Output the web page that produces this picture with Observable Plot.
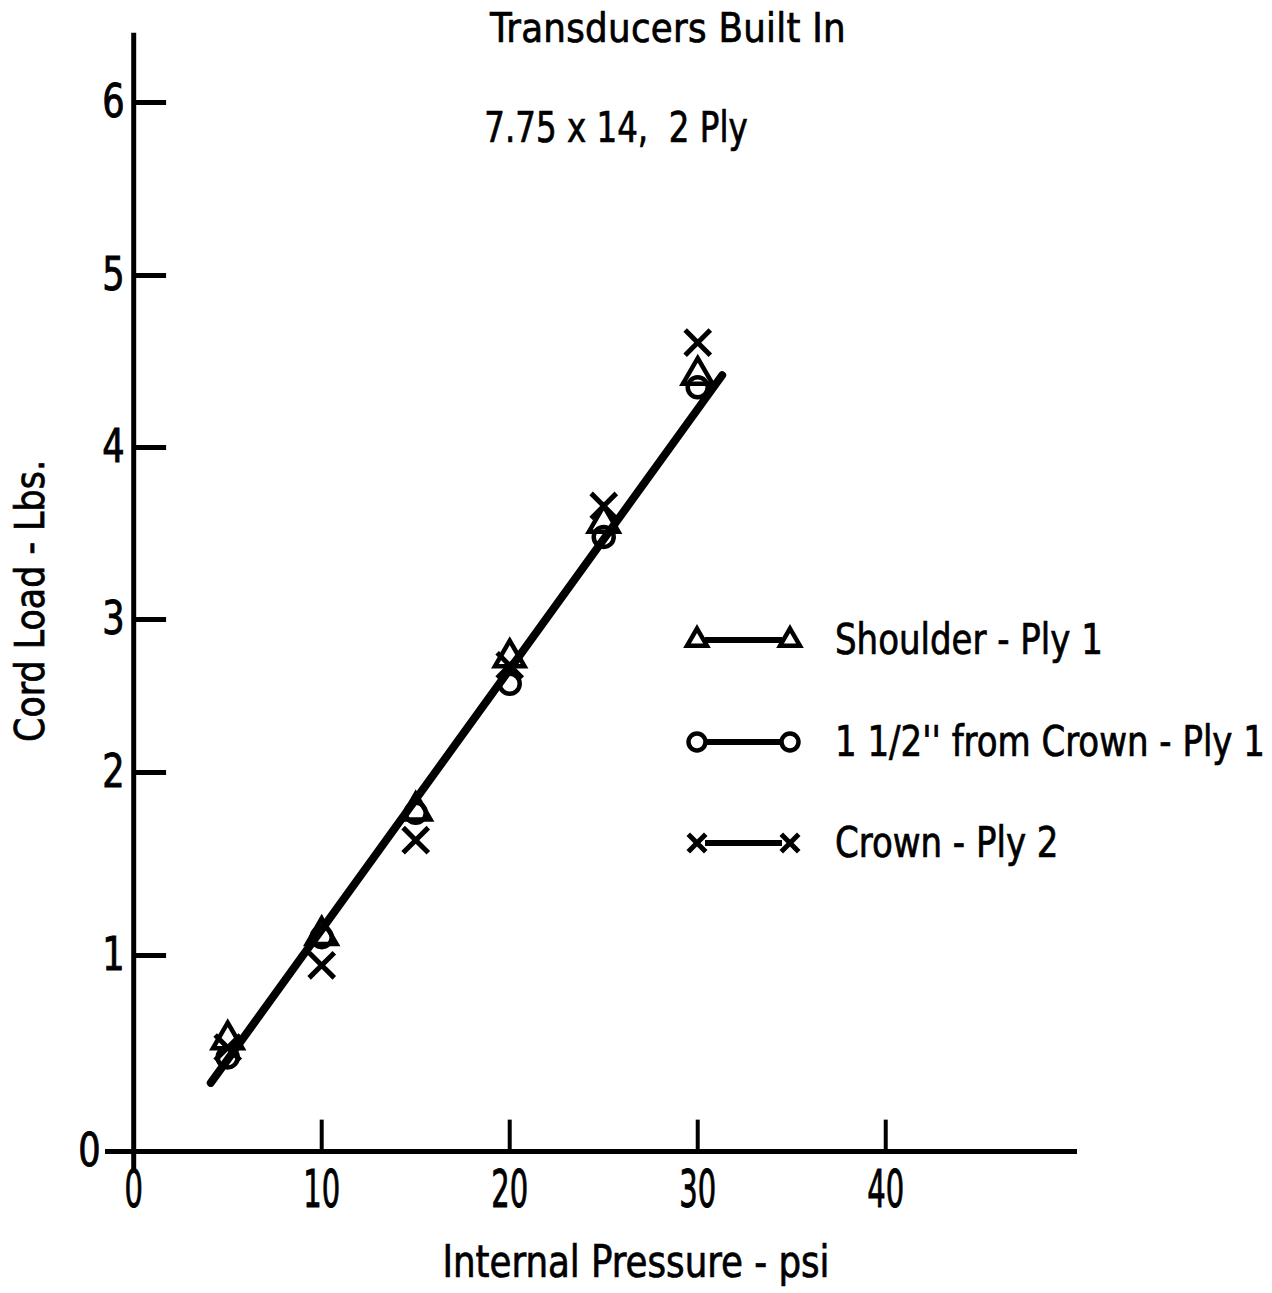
<!DOCTYPE html>
<html>
<head>
<meta charset="utf-8">
<script src="https://cdn.jsdelivr.net/npm/d3@7"></script>
<script src="https://cdn.jsdelivr.net/npm/@observablehq/plot@0.6"></script>
<style>
  html, body { margin: 0; padding: 0; background: #fff; }
  #chart {
    position: relative; width: 1272px; height: 1293px; overflow: hidden;
    font-family: "Liberation Sans Narrow", "DejaVu Sans Condensed", sans-serif;
    color: #000;
    -webkit-text-stroke: 0.7px #000;
  }
  #plot { position: absolute; left: 0; top: 0; }
  .lbl { position: absolute; white-space: nowrap; line-height: 1; }
  #title { left: 668px; top: 8px; font-size: 40px; transform: translateX(-50%) scaleX(0.99); letter-spacing: 0.3px; }
  #subtitle { left: 616px; top: 107px; font-size: 42px; transform: translateX(-50%) scaleX(0.86); }
  #xtitle { left: 636px; top: 1240px; font-size: 44px; transform: translateX(-50%) scaleX(0.9); }
  #ytitle { left: 30px; top: 601px; font-size: 40px; transform: translate(-50%, -50%) rotate(-90deg) scaleX(0.97); }
  #legend { position: absolute; left: 670px; top: 600px; }
  .leg-text {
    position: absolute; left: 835px; font-size: 42px; white-space: nowrap; line-height: 1;
    transform-origin: left center; transform: translateY(-50%) scaleX(0.9);
  }
</style>
</head>
<body>
<div id="chart">
  <div id="plot"></div>
  <div class="lbl" id="title">Transducers Built In</div>
  <div class="lbl" id="subtitle">7.75 x 14,&nbsp; 2 Ply</div>
  <div class="lbl" id="xtitle">Internal Pressure - psi</div>
  <div class="lbl" id="ytitle">Cord Load - Lbs.</div>
</div>
<script>
// Internal pressure (psi) at which cord loads were measured
const pressure = [5, 10, 15, 20, 25, 30];

// Cord load (lbs) for each transducer location
const shoulderPly1 = [0.57, 1.11, 1.79, 2.75, 3.56, 4.42];
const fromCrownPly1 = [0.48, 1.10, 1.78, 2.58, 3.48, 4.35];
const crownPly2 = [0.53, 0.95, 1.63, 2.70, 3.66, 4.61];

// Fitted straight line through all three sets
const fitPressure = [4.1, 31.3];
const fitLoad = [0.35, 4.42];

// Axis ticks
const xTicks = [0, 10, 20, 30, 40];
const yTicks = [0, 1, 2, 3, 4, 5, 6];

// Series names and marker symbols
const seriesNames = ["Shoulder - Ply 1", "1 1/2'' from Crown - Ply 1", "Crown - Ply 2"];
const seriesSymbols = ["triangle", "circle", "times"];
const seriesValues = [shoulderPly1, fromCrownPly1, crownPly2];

const points = seriesValues.flatMap((vals, s) =>
  pressure.map((p, i) => ({pressure: p, load: vals[i], series: seriesNames[s]}))
);
const fit = fitPressure.map((p, i) => ({pressure: p, load: fitLoad[i]}));

const font = '"Liberation Sans Narrow", "DejaVu Sans Condensed", sans-serif';
const ink = "#000";

function seriesDots(s, r, sw) {
  return Plot.dot(points.filter(d => d.series === seriesNames[s]), {
    x: "pressure", y: "load", symbol: () => seriesSymbols[s],
    r, stroke: ink, strokeWidth: sw, fill: "none"
  });
}

const chart = Plot.plot({
  width: 1272,
  height: 1293,
  marginLeft: 105,
  marginRight: 195,
  marginTop: 30,
  marginBottom: 142,
  style: {fontFamily: font, background: "transparent", color: ink, overflow: "visible"},
  x: {domain: [-1.5, 50.2]},
  // hand-ruled vertical axis: the tick spacing is not perfectly even
  y: {type: "linear", domain: yTicks, range: [1151, 955, 772, 619, 447, 275, 102]},
  symbol: {type: "identity"},
  marks: [
    // axis lines
    Plot.ruleY([0], {x1: -1.5, x2: 50.2, stroke: ink, strokeWidth: 5}),
    Plot.ruleX([0], {y1: -0.1, y2: 6.4, stroke: ink, strokeWidth: 5}),
    // inward tick marks
    Plot.ruleY(yTicks.slice(1), {x1: 0, x2: 1.75, stroke: ink, strokeWidth: 5}),
    Plot.ruleX(xTicks.slice(1), {y1: 0, y2: 0.16, stroke: ink, strokeWidth: 4}),
    // tick labels (the y labels sit just left of the axis at x = 0)
    Plot.axisY({ticks: yTicks.slice(1), tickFormat: d => String(d), tickSize: 0, tickPadding: 0, dx: 19, fontSize: 46, label: null, fill: ink}),
    Plot.axisY({ticks: [0], tickFormat: d => String(d), tickSize: 0, tickPadding: 5, fontSize: 46, label: null, fill: ink}),
    Plot.axisX({ticks: xTicks, tickFormat: d => String(d), tickSize: 0, tickPadding: 19, fontSize: 52, label: null, fill: ink}),
    // fitted line
    Plot.line(fit, {x: "pressure", y: "load", stroke: ink, strokeWidth: 8, strokeLinecap: "round"}),
    // measured points
    seriesDots(0, 11, 4.5),
    seriesDots(1, 10, 4.5),
    seriesDots(2, 11.5, 5)
  ]
});

// narrow, slightly heavier tick numerals
chart.querySelectorAll('g[aria-label="x-axis tick label"] text').forEach(t => {
  const tr = t.getAttribute("transform");
  if (tr) t.setAttribute("transform", tr + " scale(0.62,1)");
});
chart.querySelectorAll('g[aria-label="y-axis tick label"] text').forEach(t => {
  const tr = t.getAttribute("transform");
  if (tr) t.setAttribute("transform", tr + " scale(0.85,1)");
});
chart.querySelectorAll('g[aria-label$="tick label"]').forEach(g => {
  g.setAttribute("stroke", ink);
  g.setAttribute("stroke-width", "0.9");
});

document.getElementById("plot").appendChild(chart);

// legend: symbol — line — symbol, followed by the series name
const rowY = [40, 142, 243];
const legend = d3.select("#chart").append("svg")
  .attr("id", "legend").attr("width", 140).attr("height", 290);
const symbolTypes = {triangle: d3.symbolTriangle2, circle: d3.symbolCircle, times: d3.symbolTimes};
const legendSizes = [Math.PI * 90, Math.PI * 72, Math.PI * 64];
seriesNames.forEach((name, i) => {
  const g = legend.append("g").attr("transform", `translate(0,${rowY[i]})`);
  g.append("line").attr("x1", 35).attr("x2", 112).attr("y1", 0).attr("y2", 0)
    .attr("stroke", ink).attr("stroke-width", 6);
  [27, 120].forEach(x => {
    g.append("path")
      .attr("transform", `translate(${x},0)`)
      .attr("d", d3.symbol(symbolTypes[seriesSymbols[i]], legendSizes[i])())
      .attr("fill", "#fff").attr("stroke", ink).attr("stroke-width", i === 2 ? 5 : 4.5);
  });
  d3.select("#chart").append("div").attr("class", "leg-text")
    .style("top", (600 + rowY[i]) + "px").text(name);
});
</script>
</body>
</html>
